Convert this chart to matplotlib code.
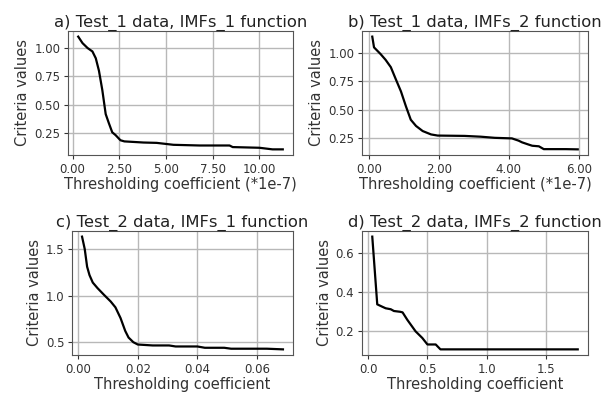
import matplotlib
matplotlib.use("Agg")
import matplotlib.pyplot as plt
from matplotlib.ticker import FormatStrFormatter

# ---------------------------------------------------------------------------
# Data
# ---------------------------------------------------------------------------
A_X = [0.30, 0.53, 0.80, 1.06, 1.24, 1.41, 1.59, 1.77, 1.94, 2.12, 2.30, 2.56,
       2.77, 3.80, 4.50, 5.40, 6.80, 8.40, 8.57, 10.0, 10.7, 11.25]
A_Y = [1.10, 1.043, 1.00, 0.97, 0.91, 0.80, 0.63, 0.42, 0.34, 0.26, 0.235, 0.19,
       0.18, 0.17, 0.167, 0.15, 0.144, 0.144, 0.13, 0.124, 0.11, 0.11]

B_X = [0.10, 0.15, 0.34, 0.48, 0.63, 0.77, 0.92, 1.06, 1.20, 1.35, 1.54, 1.78,
       1.97, 2.74, 3.20, 3.60, 4.09, 4.28, 4.38, 4.57, 4.67, 4.86, 5.00, 5.63, 5.97]
B_Y = [1.145, 1.05, 0.99, 0.94, 0.875, 0.77, 0.66, 0.53, 0.41, 0.355, 0.31, 0.28,
       0.27, 0.267, 0.26, 0.25, 0.245, 0.225, 0.21, 0.19, 0.18, 0.175, 0.15, 0.15, 0.148]

C_X = [0.0013, 0.0022, 0.0030, 0.0038, 0.0049, 0.0065, 0.0087, 0.0109, 0.0125,
       0.0142, 0.0158, 0.0169, 0.0185, 0.0200, 0.0250, 0.0305, 0.0327, 0.0400,
       0.0425, 0.0490, 0.0513, 0.0633, 0.0687]
C_Y = [1.633, 1.50, 1.31, 1.22, 1.14, 1.08, 1.007, 0.937, 0.874, 0.76, 0.62,
       0.55, 0.50, 0.475, 0.465, 0.465, 0.454, 0.454, 0.44, 0.44, 0.43, 0.43, 0.423]

D_X = [0.034, 0.076, 0.118, 0.147, 0.19, 0.217, 0.27, 0.29, 0.33, 0.40, 0.457,
       0.50, 0.57, 0.61, 1.77]
D_Y = [0.684, 0.338, 0.326, 0.318, 0.313, 0.304, 0.30, 0.297, 0.259, 0.20, 0.166,
       0.133, 0.133, 0.108, 0.108]

TITLES = ["a) Test_1 data, IMFs_1 function", "b) Test_1 data, IMFs_2 function",
          "c) Test_2 data, IMFs_1 function", "d) Test_2 data, IMFs_2 function"]
XLABELS = ["Thresholding coefficient (*1e-7)", "Thresholding coefficient (*1e-7)",
           "Thresholding coefficient", "Thresholding coefficient"]
A_XTICKS = [0.0, 2.5, 5.0, 7.5, 10.0]
A_YTICKS = [0.25, 0.50, 0.75, 1.00]
B_XTICKS = [0.0, 2.0, 4.0, 6.0]
B_YTICKS = [0.25, 0.50, 0.75, 1.00]
C_XTICKS = [0.0, 0.02, 0.04, 0.06]
C_YTICKS = [0.5, 1.0, 1.5]
D_XTICKS = [0.0, 0.5, 1.0, 1.5]
D_YTICKS = [0.2, 0.4, 0.6]

# ---------------------------------------------------------------------------
# Figure
# ---------------------------------------------------------------------------
W, H = 613, 394
fig = plt.figure(figsize=(W / 100, H / 100), dpi=100)

# axes boxes in pixels: left, top, right, bottom
boxes = [(68, 31, 293, 155), (362, 31, 588, 155),
         (72, 231, 293, 355), (362, 231, 588, 355)]
series = [(A_X, A_Y, A_XTICKS, A_YTICKS, "%.2f", "%.2f"),
          (B_X, B_Y, B_XTICKS, B_YTICKS, "%.2f", "%.2f"),
          (C_X, C_Y, C_XTICKS, C_YTICKS, "%.2f", "%.1f"),
          (D_X, D_Y, D_XTICKS, D_YTICKS, "%.1f", "%.1f")]

for (l, t, r, b), (xs, ys, xt, yt, xf, yf), title, xlabel in zip(boxes, series, TITLES, XLABELS):
    ax = fig.add_axes([l / W, 1 - b / H, (r - l) / W, (b - t) / H])
    ax.plot(xs, ys, color="black", lw=1.6)
    ax.set_xticks(xt)
    ax.set_yticks(yt)
    ax.xaxis.set_major_formatter(FormatStrFormatter(xf))
    ax.yaxis.set_major_formatter(FormatStrFormatter(yf))
    ax.grid(True, color="#b8b8b8", lw=1.0)
    ax.set_axisbelow(True)
    for sp in ax.spines.values():
        sp.set_color("#555555")
    ax.tick_params(labelsize=8.5, colors="#333333", length=3, pad=2.5)
    ax.set_title(title, fontsize=11.8, color="#222222", pad=3)
    ax.set_xlabel(xlabel, fontsize=10.5, color="#333333", labelpad=1)
    ax.set_ylabel("Criteria values", fontsize=10.5, color="#333333", labelpad=3)

fig.savefig("out.png", dpi=100)
